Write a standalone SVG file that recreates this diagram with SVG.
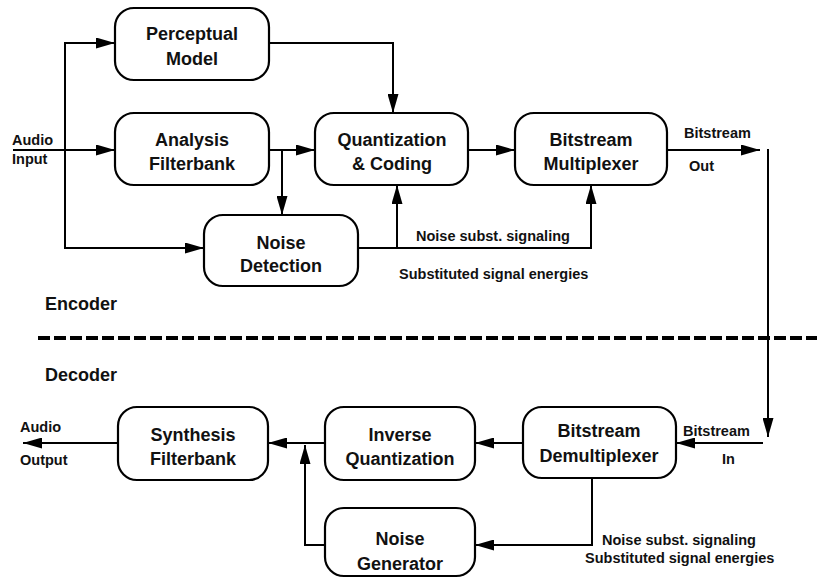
<svg xmlns="http://www.w3.org/2000/svg" width="817" height="579" viewBox="0 0 817 579">
<style>
.box{fill:#fff;stroke:#000;stroke-width:2.2}
.lbl{font-family:"Liberation Sans",Arial,sans-serif;font-size:18px;font-weight:bold;fill:#111;text-anchor:middle}
.sm{font-family:"Liberation Sans",Arial,sans-serif;font-size:14.5px;font-weight:bold;fill:#111}
.big{font-family:"Liberation Sans",Arial,sans-serif;font-size:18px;font-weight:bold;fill:#111}
.c{fill:none;stroke:#000;stroke-width:2}
</style>
<defs>
<marker id="ah" markerUnits="userSpaceOnUse" markerWidth="19" markerHeight="11" refX="19" refY="5.5" orient="auto" viewBox="0 0 19 11">
<path d="M0,0 L19,5.5 L0,11 z" fill="#000"/>
</marker>
</defs>
<rect width="817" height="579" fill="#fff"/>
<g id="connectors">
<path class="c" d="M13,150 H115" marker-end="url(#ah)"/>
<path class="c" d="M65,150 V43 H115" marker-end="url(#ah)"/>
<path class="c" d="M65,150 V248 H204" marker-end="url(#ah)"/>
<path class="c" d="M269,150 H315" marker-end="url(#ah)"/>
<path class="c" d="M282,150 V215" marker-end="url(#ah)"/>
<path class="c" d="M269,43 H393 V113" marker-end="url(#ah)"/>
<path class="c" d="M358,248 H591 V185" marker-end="url(#ah)"/>
<path class="c" d="M397,248 V185" marker-end="url(#ah)"/>
<path class="c" d="M468,150 H515" marker-end="url(#ah)"/>
<path class="c" d="M667,150 H760" marker-end="url(#ah)"/>
<path class="c" d="M768,149 V437" marker-end="url(#ah)"/>
<path class="c" d="M763,443 H676" marker-end="url(#ah)"/>
<path class="c" d="M523,443 H475" marker-end="url(#ah)"/>
<path class="c" d="M325,443 H268" marker-end="url(#ah)"/>
<path class="c" d="M325,545 H305 V445" marker-end="url(#ah)"/>
<path class="c" d="M118,443 H23" marker-end="url(#ah)"/>
<path class="c" d="M592,478 V545 H475" marker-end="url(#ah)"/>
<line x1="38" y1="338" x2="817" y2="338" stroke="#000" stroke-width="4" stroke-dasharray="12,4"/>
</g>
<g id="perceptual-model"><rect class="box" x="115" y="8" width="154" height="72" rx="19"/><text class="lbl" x="192" y="40">Perceptual</text><text class="lbl" x="192" y="65">Model</text></g>
<g id="analysis-filterbank"><rect class="box" x="115" y="113" width="154" height="72" rx="19"/><text class="lbl" x="192" y="146">Analysis</text><text class="lbl" x="192" y="170">Filterbank</text></g>
<g id="quantization-coding"><rect class="box" x="315" y="113" width="153" height="72" rx="19"/><text class="lbl" x="392" y="146">Quantization</text><text class="lbl" x="392" y="170">&amp; Coding</text></g>
<g id="bitstream-multiplexer"><rect class="box" x="515" y="113" width="152" height="72" rx="19"/><text class="lbl" x="591" y="146">Bitstream</text><text class="lbl" x="591" y="170">Multiplexer</text></g>
<g id="noise-detection"><rect class="box" x="204" y="215" width="154" height="71" rx="19"/><text class="lbl" x="281" y="249">Noise</text><text class="lbl" x="281" y="272">Detection</text></g>
<g id="synthesis-filterbank"><rect class="box" x="118" y="407" width="150" height="73" rx="19"/><text class="lbl" x="193" y="441">Synthesis</text><text class="lbl" x="193" y="465">Filterbank</text></g>
<g id="inverse-quantization"><rect class="box" x="325" y="407" width="150" height="73" rx="19"/><text class="lbl" x="400" y="441">Inverse</text><text class="lbl" x="400" y="465">Quantization</text></g>
<g id="bitstream-demultiplexer"><rect class="box" x="523" y="407" width="153" height="71" rx="19"/><text class="lbl" x="599" y="437">Bitstream</text><text class="lbl" x="599" y="462">Demultiplexer</text></g>
<g id="noise-generator"><rect class="box" x="325" y="508" width="150" height="68" rx="19"/><text class="lbl" x="400" y="545">Noise</text><text class="lbl" x="400" y="570">Generator</text></g>
<g id="labels">
<text class="sm" x="12" y="145">Audio</text>
<text class="sm" x="12" y="164">Input</text>
<text class="sm" x="684" y="138">Bitstream</text>
<text class="sm" x="689" y="171">Out</text>
<text class="sm" x="416" y="241">Noise subst. signaling</text>
<text class="sm" x="399" y="279">Substituted signal energies</text>
<text class="big" x="45" y="310">Encoder</text>
<text class="big" x="45" y="381">Decoder</text>
<text class="sm" x="20" y="432">Audio</text>
<text class="sm" x="20" y="465">Output</text>
<text class="sm" x="683" y="436">Bitstream</text>
<text class="sm" x="722" y="464">In</text>
<text class="sm" x="602" y="545">Noise subst. signaling</text>
<text class="sm" x="585" y="563">Substituted signal energies</text>
</g>
</svg>
